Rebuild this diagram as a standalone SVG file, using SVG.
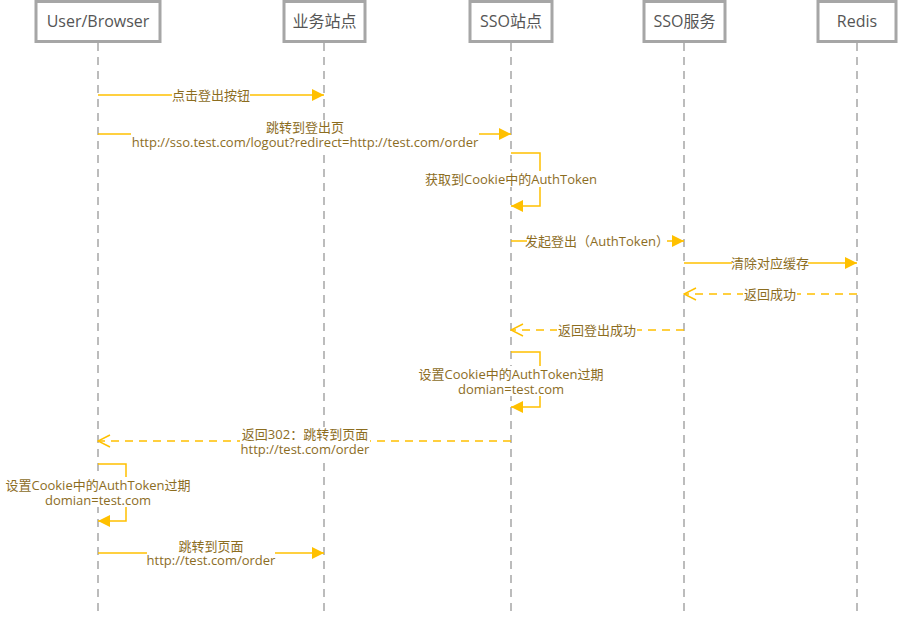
<svg xmlns="http://www.w3.org/2000/svg" width="900" height="625" viewBox="0 0 900 625">
<defs>
<style>
.box{fill:#fff;stroke:#a6a6a6;stroke-width:3}
.hd{font-family:"Open Sans","Noto Sans CJK SC",sans-serif;font-size:16px;fill:#555;text-anchor:middle;dominant-baseline:central}
.life{stroke:#a6a6a6;stroke-width:1.5;stroke-dasharray:8,6;fill:none}
.msg{stroke:#ffc000;stroke-width:1.5;fill:none}
.dash{stroke-dasharray:8,6}
.lb{font-family:"Open Sans","Noto Sans CJK SC",sans-serif;font-size:13px;fill:#8c6d1f;text-anchor:middle;dominant-baseline:central}
.bg{fill:#fff}
</style>
<marker id="af" viewBox="0 0 12 12" refX="12" refY="6" markerWidth="12" markerHeight="12" markerUnits="userSpaceOnUse" orient="auto">
<path d="M0,0 L12,6 L0,12 Z" fill="#ffc000"/>
</marker>
<marker id="ao" viewBox="0 0 14 14" refX="13" refY="7" markerWidth="14" markerHeight="14" markerUnits="userSpaceOnUse" orient="auto">
<path d="M1,1 L13,7 L1,13" fill="none" stroke="#ffc000" stroke-width="1.5"/>
</marker>
</defs>
<rect width="900" height="625" fill="#fff"/>

<g id="lifelines">
<line class="life" x1="98" y1="43" x2="98" y2="616"/>
<line class="life" x1="324" y1="43" x2="324" y2="616"/>
<line class="life" x1="511" y1="43" x2="511" y2="616"/>
<line class="life" x1="684" y1="43" x2="684" y2="616"/>
<line class="life" x1="857" y1="43" x2="857" y2="616"/>
</g>

<g id="user"><rect class="box" x="36" y="1.5" width="124" height="40"/><text class="hd" x="98" y="21">User/Browser</text></g>
<g id="biz"><rect class="box" x="284" y="1.5" width="81" height="40"/><text class="hd" x="324.5" y="21">业务站点</text></g>
<g id="ssosite"><rect class="box" x="470" y="1.5" width="82" height="40"/><text class="hd" x="511" y="21">SSO站点</text></g>
<g id="ssosvc"><rect class="box" x="644" y="1.5" width="81" height="40"/><text class="hd" x="684.5" y="21">SSO服务</text></g>
<g id="redis"><rect class="box" x="818" y="1.5" width="78" height="40"/><text class="hd" x="857" y="21">Redis</text></g>

<g id="connectors">
<line class="msg" x1="98" y1="95" x2="324" y2="95" marker-end="url(#af)"/>
<line class="msg" x1="98" y1="134" x2="511" y2="134" marker-end="url(#af)"/>
<polyline class="msg" points="511,153 540,153 540,206 511,206" marker-end="url(#af)"/>
<line class="msg" x1="511" y1="241" x2="684" y2="241" marker-end="url(#af)"/>
<line class="msg" x1="684" y1="263" x2="857" y2="263" marker-end="url(#af)"/>
<line class="msg dash" x1="857" y1="294" x2="684" y2="294" marker-end="url(#ao)"/>
<line class="msg dash" x1="684" y1="330" x2="511" y2="330" marker-end="url(#ao)"/>
<polyline class="msg" points="511,352 540,352 540,407 511,407" marker-end="url(#af)"/>
<line class="msg dash" x1="511" y1="441" x2="98" y2="441" marker-end="url(#ao)"/>
<polyline class="msg" points="98,464 126,464 126,521 98,521" marker-end="url(#af)"/>
<line class="msg" x1="98" y1="553" x2="324" y2="553" marker-end="url(#af)"/>
</g>

<g id="labels">
<rect class="bg" x="172" y="88" width="78" height="14"/>
<text class="lb" x="211" y="95">点击登出按钮</text>
<rect class="bg" x="131" y="120" width="348" height="29"/>
<text class="lb" x="305" y="127">跳转到登出页</text>
<text class="lb" x="305" y="142">http://sso.test.com/logout?redirect=http://test.com/order</text>
<rect class="bg" x="426" y="171" width="170" height="16"/>
<text class="lb" x="511" y="179">获取到Cookie中的AuthToken</text>
<rect class="bg" x="527" y="234" width="140" height="15"/>
<text class="lb" x="597" y="241">发起登出（AuthToken）</text>
<rect class="bg" x="732" y="256" width="76" height="15"/>
<text class="lb" x="770" y="263">清除对应缓存</text>
<rect class="bg" x="743" y="287" width="54" height="15"/>
<text class="lb" x="770" y="294">返回成功</text>
<rect class="bg" x="557" y="323" width="80" height="15"/>
<text class="lb" x="597" y="330">返回登出成功</text>
<rect class="bg" x="420" y="366" width="183" height="30"/>
<text class="lb" x="511" y="374">设置Cookie中的AuthToken过期</text>
<text class="lb" x="511" y="389">domian=test.com</text>
<rect class="bg" x="240" y="427" width="130" height="30"/>
<text class="lb" x="305" y="434">返回302：跳转到页面</text>
<text class="lb" x="305" y="449">http://test.com/order</text>
<rect class="bg" x="6" y="477" width="184" height="30"/>
<text class="lb" x="98" y="485">设置Cookie中的AuthToken过期</text>
<text class="lb" x="98" y="500">domian=test.com</text>
<rect class="bg" x="147" y="539" width="128" height="29"/>
<text class="lb" x="211" y="546">跳转到页面</text>
<text class="lb" x="211" y="560">http://test.com/order</text>
</g>
</svg>
